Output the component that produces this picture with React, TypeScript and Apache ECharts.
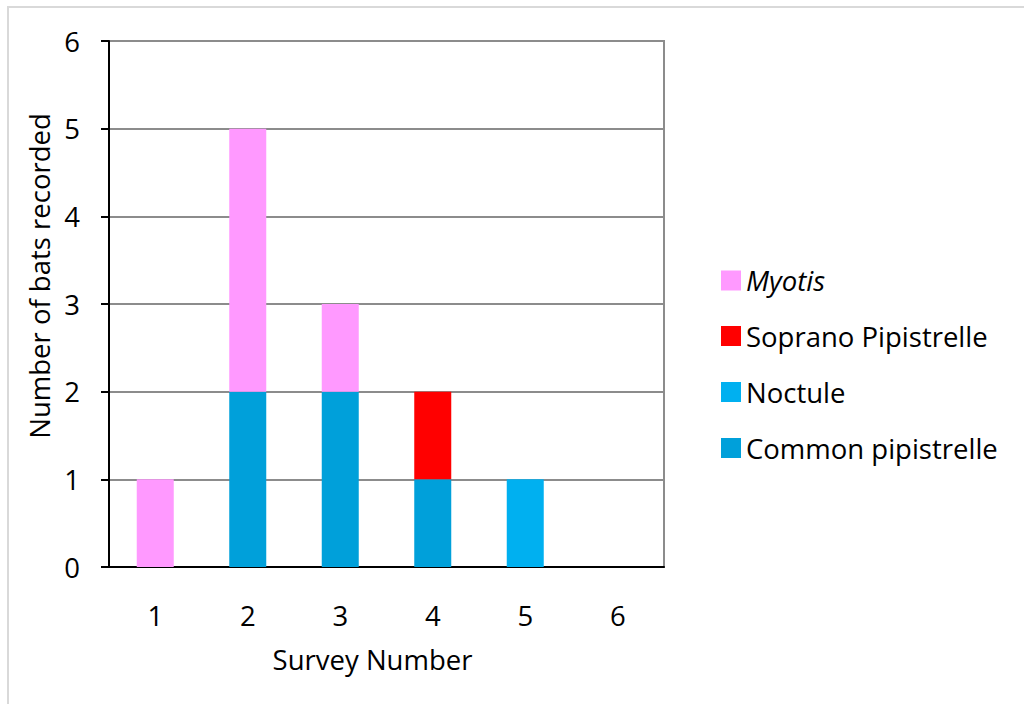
import React, { useEffect, useRef } from "react";
import * as echarts from "echarts";

const categories = ["1", "2", "3", "4", "5", "6"];
const commonPipistrelle = [0, 2, 2, 1, 0, 0];
const noctule = [0, 0, 0, 0, 1, 0];
const sopranoPipistrelle = [0, 0, 0, 1, 0, 0];
const myotis = [1, 3, 1, 0, 0, 0];
const seriesNames = ["Common pipistrelle", "Noctule", "Soprano Pipistrelle", "Myotis"];
const seriesColors = ["#00A0DA", "#00B0F0", "#FF0000", "#FF99FF"];
const legendOrder = ["Myotis", "Soprano Pipistrelle", "Noctule", "Common pipistrelle"];

const FONT = "Open Sans";
const FS = 27.5;

export default function App() {
  const ref = useRef<HTMLDivElement>(null);
  useEffect(() => {
    if (!ref.current) return;
    const chart = echarts.init(ref.current, null, { renderer: "svg" });
    const dataSets = [commonPipistrelle, noctule, sopranoPipistrelle, myotis];
    chart.setOption({
      animation: false,
      backgroundColor: "#ffffff",
      textStyle: { fontFamily: FONT },
      graphic: [
        {
          type: "rect",
          shape: { x: 8, y: 7, width: 1100, height: 800 },
          style: { fill: "none", stroke: "#d9d9d9", lineWidth: 2 },
          silent: true,
          z: -10,
        },
      ],
      grid: {
        left: 109,
        right: 360,
        top: 41,
        bottom: 137,
        show: true,
        borderColor: "#8c8c8c",
        borderWidth: 2,
      },
      legend: {
        orient: "vertical",
        left: 716,
        top: 262,
        itemWidth: 20,
        itemHeight: 20,
        itemGap: 28,
        icon: "rect",
        data: legendOrder,
        formatter: (name: string) => (name === "Myotis" ? "{i|" + name + "}" : name),
        textStyle: {
          fontFamily: FONT,
          fontSize: FS,
          color: "#000",
          rich: {
            i: { fontFamily: FONT, fontSize: FS, fontStyle: "italic", color: "#000" },
          },
        },
      },
      xAxis: {
        type: "category",
        data: categories,
        name: "Survey Number",
        nameLocation: "middle",
        nameGap: 78,
        nameTextStyle: { fontFamily: FONT, fontSize: FS, color: "#000", padding: [0, 28, 0, 0] },
        axisLine: { lineStyle: { color: "#000", width: 2 } },
        axisTick: { show: false },
        axisLabel: { fontFamily: FONT, fontSize: FS, color: "#000", margin: 34 },
      },
      yAxis: {
        type: "value",
        min: 0,
        max: 6,
        interval: 1,
        name: "Number of bats recorded",
        nameLocation: "middle",
        nameGap: 53,
        nameTextStyle: { fontFamily: FONT, fontSize: FS, color: "#000", padding: [0, 0, 0, 56] },
        axisLine: { show: true, lineStyle: { color: "#000", width: 2 } },
        axisTick: { show: true, length: 8, lineStyle: { color: "#000", width: 2 } },
        axisLabel: { fontFamily: FONT, fontSize: FS, color: "#000", margin: 29 },
        splitLine: { lineStyle: { color: "#8c8c8c", width: 2 } },
      },
      series: seriesNames.map((name, i) => ({
        name,
        type: "bar",
        stack: "total",
        barWidth: "40%",
        data: dataSets[i],
        itemStyle: { color: seriesColors[i] },
      })),
    });
    return () => chart.dispose();
  }, []);
  return (
    <div
      ref={ref}
      style={{ position: "absolute", left: 0, top: 0, width: 1024, height: 704 }}
    />
  );
}
